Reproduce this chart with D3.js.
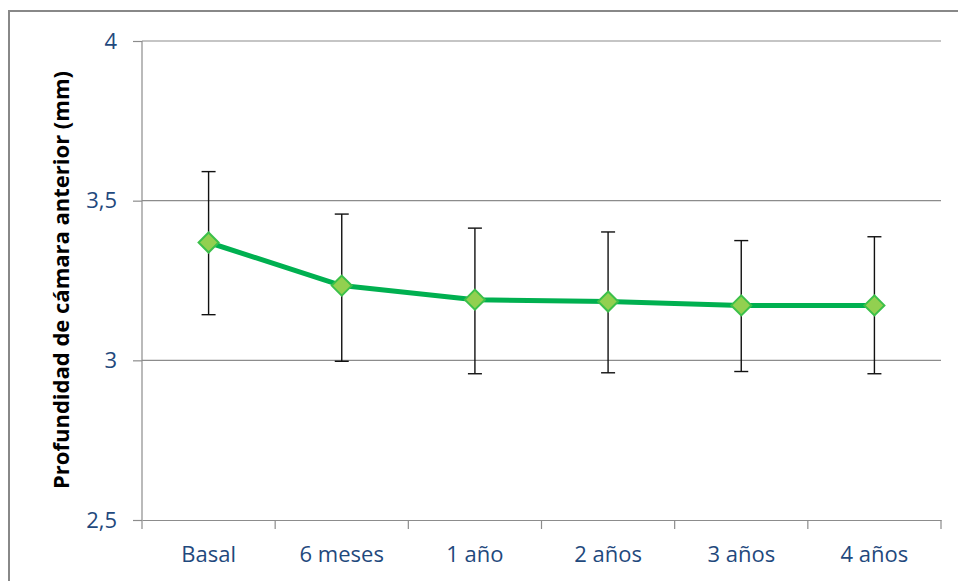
<!DOCTYPE html>
<meta charset="utf-8">
<style>
    body { margin: 0; background: #fff; }
    .tick text { fill: #1F497D; font-family: 'Open Sans', sans-serif; font-size: 22px; }
    .ytitle { font-family: 'Open Sans', sans-serif; font-weight: bold; font-size: 22px; fill: #000; }
</style>
<svg width="958" height="581"></svg>
<script src="https://d3js.org/d3.v7.min.js"></script>
<script>

    var categories = ["Basal", "6 meses", "1 año", "2 años", "3 años", "4 años"];
    var means = [3.369, 3.234, 3.190, 3.184, 3.172, 3.172];
    var upper = [3.591, 3.458, 3.414, 3.402, 3.375, 3.387];
    var lower = [3.143, 2.997, 2.958, 2.961, 2.965, 2.958];
    var yTicks = [2.5, 3, 3.5, 4];

    var svg = d3.select("svg"),
        margin = {top: 41, left: 142, right: 17, bottom: 61},
        width = 958 - margin.left - margin.right,
        height = 581 - margin.top - margin.bottom;

    // outer chart frame
    svg.append("rect")
        .attr("x", 9).attr("y", 11)
        .attr("width", 980).attr("height", 620)
        .attr("fill", "none")
        .attr("stroke", "#888")
        .attr("stroke-width", 2);

    var g = svg.append("g").attr("transform", "translate(" + margin.left + "," + margin.top + ")");

    var x = d3.scaleBand().domain(categories).range([0, width]);
    var y = d3.scaleLinear().domain([2.5, 4]).range([height, 0]);

    // gridlines
    g.selectAll(".grid")
        .data(yTicks.slice(1))
        .enter().append("line")
        .attr("x1", 0).attr("x2", width)
        .attr("y1", function(d) { return y(d); })
        .attr("y2", function(d) { return y(d); })
        .attr("stroke", "#8c8c8c")
        .attr("stroke-width", 1.2);

    var yAxis = g.append("g")
        .call(d3.axisLeft(y).tickValues(yTicks).tickSize(9).tickPadding(16)
            .tickFormat(function(d) { return String(d).replace(".", ","); }));
    yAxis.selectAll("line, path").attr("stroke", "#8c8c8c").attr("stroke-width", 1.2);
    yAxis.select(".domain").attr("d", "M0," + height + "V0");

    var xAxis = g.append("g")
        .attr("transform", "translate(0," + height + ")")
        .call(d3.axisBottom(x).tickSize(0));
    xAxis.select(".domain").attr("stroke", "#8c8c8c").attr("stroke-width", 1.2);
    xAxis.selectAll(".tick line").remove();
    xAxis.selectAll(".tick text").attr("y", 42).attr("dy", 0);

    // category boundary ticks
    g.selectAll(".xtick")
        .data(categories.concat([null]))
        .enter().append("line")
        .attr("x1", function(d, i) { return i * x.step(); })
        .attr("x2", function(d, i) { return i * x.step(); })
        .attr("y1", height).attr("y2", height + 9)
        .attr("stroke", "#8c8c8c")
        .attr("stroke-width", 1.2);

    var cx = function(d, i) { return x(categories[i]) + x.bandwidth() / 2; };

    // error bars
    var eb = g.selectAll(".err")
        .data(means)
        .enter().append("g");
    eb.append("line")
        .attr("x1", cx).attr("x2", cx)
        .attr("y1", function(d, i) { return y(upper[i]); })
        .attr("y2", function(d, i) { return y(lower[i]); })
        .attr("stroke", "#111").attr("stroke-width", 1.4);
    [upper, lower].forEach(function(arr) {
        eb.append("line")
            .attr("x1", function(d, i) { return cx(d, i) - 7; })
            .attr("x2", function(d, i) { return cx(d, i) + 7; })
            .attr("y1", function(d, i) { return y(arr[i]); })
            .attr("y2", function(d, i) { return y(arr[i]); })
            .attr("stroke", "#111").attr("stroke-width", 1.4);
    });

    // mean line
    g.append("path")
        .datum(means)
        .attr("fill", "none")
        .attr("stroke", "#00B050")
        .attr("stroke-width", 5)
        .attr("stroke-linejoin", "round")
        .attr("d", d3.line().x(cx).y(function(d) { return y(d); }));

    // diamond markers
    g.selectAll(".mk")
        .data(means)
        .enter().append("path")
        .attr("transform", function(d, i) { return "translate(" + cx(d, i) + "," + y(d) + ")"; })
        .attr("d", "M0,-10L10,0L0,10L-10,0Z")
        .attr("fill", "#92D050")
        .attr("stroke", "#3CC04A")
        .attr("stroke-width", 2);

    svg.append("text")
        .attr("class", "ytitle")
        .attr("transform", "translate(69,280) rotate(-90)")
        .attr("text-anchor", "middle")
        .text("Profundidad de cámara anterior (mm)");

</script>
